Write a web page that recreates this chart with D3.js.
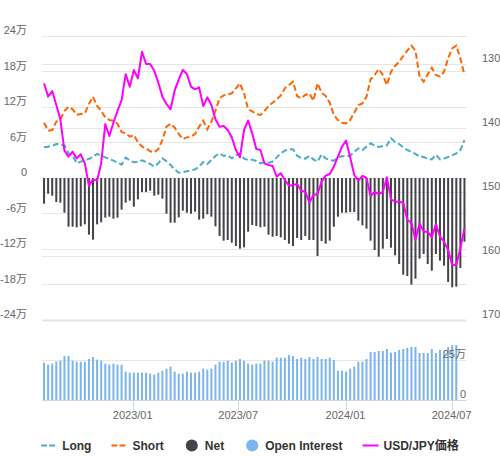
<!DOCTYPE html>
<html><head><meta charset="utf-8">
<script src="https://cdn.jsdelivr.net/npm/d3@7"></script>
<style>
body{margin:0;background:#fff}
svg{display:block;font-family:"Liberation Sans",Arial,"Noto Sans CJK JP",sans-serif}
</style>
</head><body>
<svg id="c" width="500" height="458"></svg>
<script>
// ---- data (positions in 万 contracts, price in JPY) ----
const dates = [
"2022-08-02","2022-08-09","2022-08-16","2022-08-23","2022-08-30","2022-09-06","2022-09-13","2022-09-20","2022-09-27","2022-10-04",
"2022-10-11","2022-10-18","2022-10-25","2022-11-01","2022-11-08","2022-11-15","2022-11-22","2022-11-29","2022-12-06","2022-12-13",
"2022-12-20","2022-12-27","2023-01-03","2023-01-10","2023-01-17","2023-01-24","2023-01-31","2023-02-07","2023-02-14","2023-02-21",
"2023-02-28","2023-03-07","2023-03-14","2023-03-21","2023-03-28","2023-04-04","2023-04-11","2023-04-18","2023-04-25","2023-05-02",
"2023-05-09","2023-05-16","2023-05-23","2023-05-30","2023-06-06","2023-06-13","2023-06-20","2023-06-27","2023-07-04","2023-07-11",
"2023-07-18","2023-07-25","2023-08-01","2023-08-08","2023-08-15","2023-08-22","2023-08-29","2023-09-05","2023-09-12","2023-09-19",
"2023-09-26","2023-10-03","2023-10-10","2023-10-17","2023-10-24","2023-10-31","2023-11-07","2023-11-14","2023-11-21","2023-11-28",
"2023-12-05","2023-12-12","2023-12-19","2023-12-26","2024-01-02","2024-01-09","2024-01-16","2024-01-23","2024-01-30","2024-02-06",
"2024-02-13","2024-02-20","2024-02-27","2024-03-05","2024-03-12","2024-03-19","2024-03-26","2024-04-02","2024-04-09","2024-04-16",
"2024-04-23","2024-04-30","2024-05-07","2024-05-14","2024-05-21","2024-05-28","2024-06-04","2024-06-11","2024-06-18","2024-06-25",
"2024-07-02","2024-07-09","2024-07-16","2024-07-23"];

const longPos = [
5.18,5.30,5.41,5.75,5.63,5.52,4.17,3.77,2.48,2.76,3.04,3.21,3.61,4.06,3.77,3.49,3.21,2.93,2.59,2.25,
3.44,2.99,2.65,2.70,2.99,2.70,2.37,1.92,2.48,3.32,2.82,2.20,1.46,0.90,1.01,1.13,1.30,1.46,1.92,2.70,
2.37,3.04,3.72,4.17,3.72,3.83,3.32,3.83,4.17,3.27,3.04,3.10,2.87,2.48,2.70,2.59,2.76,3.49,4.17,4.62,
4.85,4.85,3.77,3.38,3.27,3.72,3.16,2.76,4.00,3.32,3.04,2.93,3.44,3.72,3.61,3.77,4.39,5.01,4.73,5.30,
5.86,5.46,5.24,5.41,5.52,6.70,6.08,5.75,5.18,4.73,4.45,4.06,3.61,3.55,3.27,3.16,3.94,3.16,3.27,3.55,
3.83,4.17,4.73,6.42];

const shortPos = [
9.35,8.00,8.11,9.52,9.92,11.32,12.06,11.61,10.70,10.82,10.93,12.51,13.75,12.17,11.38,10.25,9.80,9.69,9.13,7.77,
7.55,6.99,7.27,6.08,5.30,5.01,4.51,4.34,4.90,6.42,8.68,9.18,8.51,7.44,6.59,6.87,6.99,7.44,8.68,9.69,
8.23,9.52,11.38,13.47,13.97,14.14,14.31,15.16,16.00,14.31,11.61,11.27,10.82,10.65,11.32,12.17,12.73,13.30,13.97,15.16,
15.72,16.28,13.86,13.47,14.03,14.31,13.07,16.00,14.42,13.86,12.73,10.65,9.80,9.35,9.24,9.80,11.04,12.34,12.62,13.75,
16.68,17.41,18.42,17.41,15.72,17.97,18.93,19.66,20.62,21.52,22.37,21.52,17.13,16.28,17.52,18.65,17.41,17.13,17.97,20.23,
21.92,22.37,20.23,17.41];

const netPos = [
-4.34,-2.65,-2.99,-4.06,-4.17,-5.86,-8.23,-8.23,-8.34,-8.17,-7.83,-9.58,-10.42,-7.83,-7.49,-6.70,-6.54,-6.87,-6.70,-5.35,
-4.17,-3.83,-4.85,-3.61,-2.37,-2.37,-2.14,-2.99,-2.82,-3.49,-6.03,-7.55,-7.55,-6.65,-5.52,-5.86,-6.03,-5.69,-7.04,-6.87,
-6.14,-6.54,-8.17,-9.80,-10.59,-10.48,-10.93,-11.49,-11.94,-11.72,-9.07,-7.94,-8.11,-8.34,-8.23,-9.58,-9.92,-9.80,-10.03,-10.48,
-11.10,-11.49,-10.14,-10.48,-9.80,-10.48,-10.48,-13.18,-10.65,-11.10,-10.59,-8.23,-6.54,-5.86,-5.86,-5.75,-5.75,-7.21,-8.00,-8.56,
-10.59,-12.17,-13.30,-11.94,-10.31,-11.78,-13.07,-14.54,-16.34,-16.56,-18.03,-17.01,-13.63,-12.85,-14.54,-15.67,-12.85,-13.97,-14.82,-17.58,
-18.48,-18.37,-15.21,-10.76];

const openInterest = [
23.33,22.08,22.71,23.96,24.58,27.50,27.50,24.58,23.96,23.96,23.96,25.63,26.88,25.21,24.58,22.71,22.08,22.71,22.08,22.08,
17.71,17.08,17.08,17.08,17.08,17.08,16.46,15.83,17.08,18.33,19.58,20.83,17.71,16.46,16.46,17.71,17.08,17.08,17.71,19.58,
18.96,19.58,22.08,23.96,23.96,24.58,23.33,24.58,25.63,24.58,22.71,22.08,22.71,22.71,24.58,24.58,23.96,26.46,26.46,26.46,
28.13,27.50,25.63,26.46,25.63,26.88,25.63,26.88,25.63,25.63,26.46,25.00,18.33,18.33,17.71,19.58,20.83,23.96,23.96,25.63,
30.00,30.00,30.63,30.63,31.88,29.58,30.00,31.25,31.88,32.50,33.13,33.13,29.38,29.38,29.38,31.88,29.38,31.25,30.00,33.13,
34.38,34.38,null,null];

const usdjpy = [
133.02,135.10,134.22,136.41,138.65,143.54,144.48,143.70,144.74,144.11,145.52,149.06,148.02,148.23,145.52,139.38,141.25,139.17,137.34,135.63,
131.61,133.54,130.94,132.24,128.07,130.00,130.00,131.04,132.92,135.10,136.25,137.08,134.17,132.40,130.94,131.56,133.54,133.96,133.65,136.56,
135.21,136.41,138.65,139.79,139.69,140.31,141.46,143.44,144.58,140.31,138.85,140.83,143.28,143.44,145.52,145.78,145.94,147.60,147.08,148.13,
149.01,148.91,148.75,149.79,149.95,151.67,150.47,150.31,148.39,147.45,147.19,146.04,144.48,142.92,141.98,144.58,147.34,148.23,147.50,147.76,
150.63,150.00,150.31,150.00,147.71,151.15,151.51,151.51,151.67,154.38,154.79,157.50,154.90,156.20,156.20,157.08,155.00,156.98,157.76,159.06,
161.41,161.41,158.80,155.68];

const positionTicks = [-24,-18,-12,-6,0,6,12,18,24];
const priceTicks = [130,140,150,160,170];
const oiTicks = [0,25,50];
const xTickDates = ["2023-01-01","2023-07-01","2024-01-01","2024-07-01"];
const seriesNames = ["Long","Short","Net","Open Interest","USD/JPY価格"];
const colors = {long:"#4bacc6", short:"#ff6600", net:"#434348", oi:"#7cb5ec", price:"#ff00ff"};

// ---- layout ----
const svg = d3.select("#c");
const W = 500, H = 458;
const L = 42, R = 466.5;
const mainTop = 36, mainBot = 320, oiTop = 320, oiBot = 400;
const parse = d3.utcParse("%Y-%m-%d");
const dt = dates.map(parse);
const DAY = 86400000;
const x = d3.scaleUtc()
  .domain([new Date(+dt[0] - 3.5*DAY), new Date(+dt[dt.length-1] + 3.5*DAY)])
  .range([L, R]);
const yPos = d3.scaleLinear().domain([-24, 24]).range([mainBot, mainTop]);
const yPrice = d3.scaleLinear().domain([130, 170]).range([64, mainBot]);
const yOI = d3.scaleLinear().domain([0, 50]).range([oiBot, oiTop]);

const grid = svg.append("g").attr("stroke", "#e6e6e6").attr("stroke-width", 1);
const hline = (y, w) => grid.append("line").attr("x1", L).attr("x2", R)
  .attr("y1", Math.round(y) + 0.5).attr("y2", Math.round(y) + 0.5).attr("stroke-width", w || 1);
positionTicks.forEach(t => hline(yPos(t) - 0.5, t === -24 ? 2 : 1));
priceTicks.forEach(t => { if (t !== 170) hline(yPrice(t) - 0.5); });
oiTicks.forEach(t => { if (t !== 0 && t !== 50) hline(yOI(t) - 0.5); });

// ---- series ----
const lineGen = acc => d3.line().x((d, i) => x(dt[i])).y(acc);
svg.append("path").datum(longPos)
  .attr("d", lineGen(d => yPos(d))).attr("fill", "none")
  .attr("stroke", colors.long).attr("stroke-width", 2).attr("stroke-dasharray", "6,3");
svg.append("path").datum(shortPos)
  .attr("d", lineGen(d => yPos(d))).attr("fill", "none")
  .attr("stroke", colors.short).attr("stroke-width", 2).attr("stroke-dasharray", "6,3");

const bw = 2;
svg.append("g").attr("fill", colors.net).selectAll("rect").data(netPos).join("rect")
  .attr("x", (d, i) => x(dt[i]) - bw/2).attr("width", bw)
  .attr("y", d => Math.min(yPos(0), yPos(d)))
  .attr("height", d => Math.abs(yPos(d) - yPos(0)));

svg.append("g").attr("fill", colors.oi).selectAll("rect")
  .data(openInterest.map((v, i) => ({v, i})).filter(d => d.v != null)).join("rect")
  .attr("x", d => x(dt[d.i]) - bw/2).attr("width", bw)
  .attr("y", d => yOI(d.v)).attr("height", d => yOI(0) - yOI(d.v));

svg.append("path").datum(usdjpy)
  .attr("d", lineGen(d => yPrice(d))).attr("fill", "none")
  .attr("stroke", colors.price).attr("stroke-width", 2).attr("stroke-linejoin", "round");

// ---- axes ----
const fmtW = v => v === 0 ? "0" : v + "万";
const lab = svg.append("g").attr("font-size", 11).attr("fill", "#666666");
positionTicks.forEach(t => lab.append("text").attr("x", 27).attr("y", yPos(t) - 2)
  .attr("text-anchor", "end").text(fmtW(t)));
priceTicks.forEach(t => lab.append("text").attr("x", 482).attr("y", yPrice(t) - 2)
  .attr("text-anchor", "start").text(t));
[0, 25].forEach(t => lab.append("text").attr("x", 466).attr("y", yOI(t) - 2)
  .attr("text-anchor", "end").text(fmtW(t)));

svg.append("line").attr("x1", L).attr("x2", R).attr("y1", oiBot + 0.5).attr("y2", oiBot + 0.5)
  .attr("stroke", "#ccd6eb");
const fmtX = d3.utcFormat("%Y/%m");
xTickDates.map(parse).forEach(d => {
  const px = Math.round(x(d)) + 0.5;
  svg.append("line").attr("x1", px).attr("x2", px).attr("y1", oiBot).attr("y2", oiBot + 10)
    .attr("stroke", "#ccd6eb");
  lab.append("text").attr("x", x(d)).attr("y", 419).attr("text-anchor", "middle").text(fmtX(d));
});

// ---- legend ----
const legendItems = [
  {name: seriesNames[0], type: "dash", color: colors.long},
  {name: seriesNames[1], type: "dash", color: colors.short},
  {name: seriesNames[2], type: "circle", color: colors.net},
  {name: seriesNames[3], type: "circle", color: colors.oi},
  {name: seriesNames[4], type: "line", color: colors.price}
];
const lg = svg.append("g");
const cy = 445.5;
const items = legendItems.map(it => {
  const g = lg.append("g");
  const t = g.append("text").attr("x", 21).attr("y", cy + 4.5)
    .attr("font-size", 12).attr("font-weight", "bold").attr("fill", "#333333").text(it.name);
  if (it.type === "circle") g.append("circle").attr("cx", 8).attr("cy", cy).attr("r", 6).attr("fill", it.color);
  else g.append("line").attr("x1", 0).attr("x2", 16).attr("y1", cy).attr("y2", cy)
    .attr("stroke", it.color).attr("stroke-width", 2)
    .attr("stroke-dasharray", it.type === "dash" ? "6,2" : null);
  return {g, w: 21 + t.node().getComputedTextLength()};
});
const total = d3.sum(items, d => d.w) + 20 * (items.length - 1);
let cx = 250 - total / 2;
items.forEach(d => { d.g.attr("transform", `translate(${cx},0)`); cx += d.w + 20; });
</script>
</body></html>
